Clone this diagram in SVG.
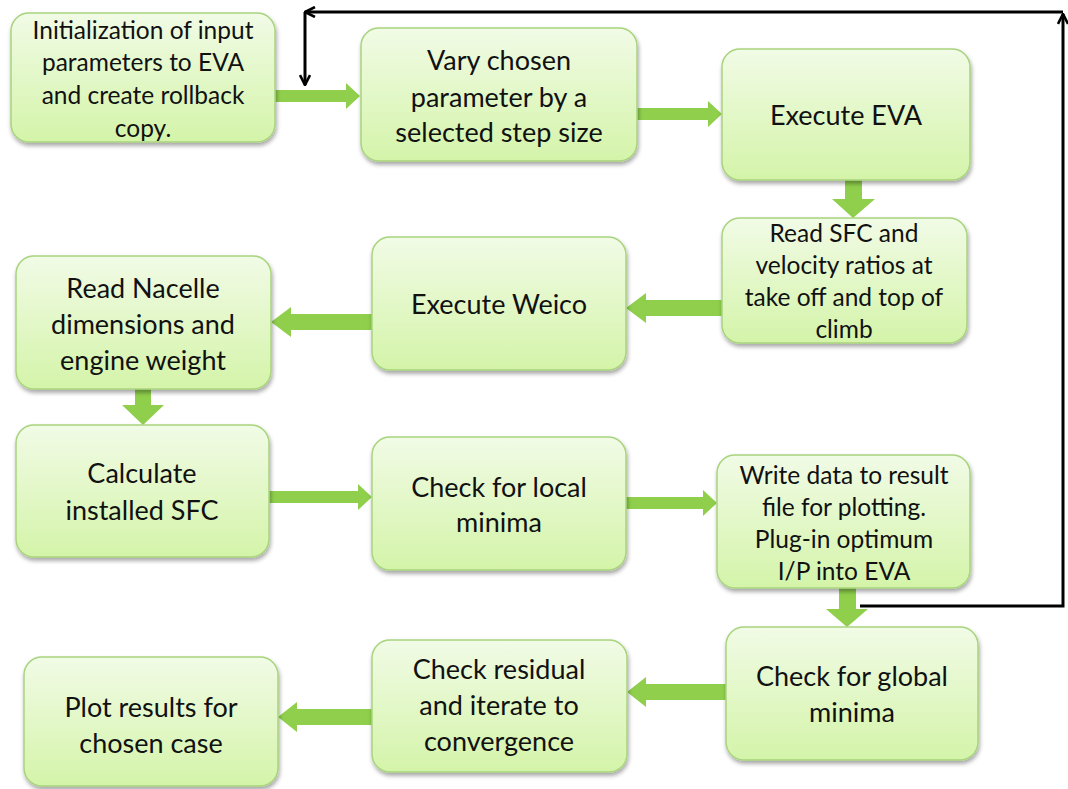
<svg xmlns="http://www.w3.org/2000/svg" width="1068" height="789" viewBox="0 0 1068 789">
<defs>
<linearGradient id="g" x1="0" y1="0" x2="0" y2="1">
<stop offset="0" stop-color="#f1fbe6"/>
<stop offset="1" stop-color="#d4f4a9"/>
</linearGradient>
<filter id="sh" x="-10%" y="-10%" width="130%" height="130%">
<feDropShadow dx="1" dy="3" stdDeviation="2" flood-color="#000" flood-opacity="0.35"/>
</filter>
<marker id="oa" viewBox="0 0 12 12" refX="11" refY="6" markerWidth="12" markerHeight="12" markerUnits="userSpaceOnUse" orient="auto">
<path d="M1,1 L11,6 L1,11" fill="none" stroke="#000" stroke-width="2.6" stroke-linejoin="miter"/>
</marker>
</defs>
<style>
.box{fill:url(#g);stroke:#a8d47e;stroke-width:1.5;filter:url(#sh)}
.t{font-family:Lato,"Liberation Sans",sans-serif;fill:#111;text-anchor:middle}
.s{font-size:24.5px}
.b{font-size:27px}
.ga{fill:#8fcf4c}
.fb{fill:none;stroke:#000;stroke-width:3}
</style>
<rect width="1068" height="789" fill="#fff"/>
<g id="connectors">
<polygon class="ga" points="275,90 346,90 346,83 360,96 346,109 346,102 275,102"/>
<polygon class="ga" points="637,108 708,108 708,101 722,114 708,127 708,120 637,120"/>
<polygon class="ga" points="845,180 862,180 862,199 875,199 853,218 832,199 845,199"/>
<polygon class="ga" points="722,300 646,300 646,293 626,308 646,323 646,316 722,316"/>
<polygon class="ga" points="372,314 291,314 291,307 271,322 291,337 291,330 372,330"/>
<polygon class="ga" points="135,389 151,389 151,405 164,405 143,425 122,405 135,405"/>
<polygon class="ga" points="269,491 358,491 358,484 372,497 358,510 358,503 269,503"/>
<polygon class="ga" points="626,497 703,497 703,490 717,503 703,516 703,509 626,509"/>
<polygon class="ga" points="839,588 856,588 856,609 868,609 847,627 826,609 839,609"/>
<polygon class="ga" points="726,684 646,684 646,677 627,692 646,707 646,700 726,700"/>
<polygon class="ga" points="372,709 297,709 297,702 278,717 297,732 297,725 372,725"/>
<path class="fb" d="M860,606 L1063,606 L1063,14" marker-end="url(#oa)"/>
<path class="fb" d="M1063,12 L305,12" marker-end="url(#oa)"/>
<path class="fb" d="M305,12 L305,85" marker-end="url(#oa)"/>
</g>
<g id="n1"><rect class="box" x="11" y="13" width="264" height="129" rx="18"/>
<text class="t s" x="143" y="39">Initialization of input</text><text class="t s" x="143" y="71">parameters to EVA</text><text class="t s" x="143" y="104">and create rollback</text><text class="t s" x="143" y="137">copy.</text></g>
<g id="n2"><rect class="box" x="361" y="28" width="276" height="133" rx="18"/>
<text class="t b" x="499" y="70">Vary chosen</text><text class="t b" x="499" y="107">parameter by a</text><text class="t b" x="499" y="142">selected step size</text></g>
<g id="n3"><rect class="box" x="722" y="49" width="248" height="131" rx="18"/>
<text class="t b" x="846" y="125">Execute EVA</text></g>
<g id="n4"><rect class="box" x="722" y="218" width="245" height="125" rx="18"/>
<text class="t s" x="844" y="242">Read SFC and</text><text class="t s" x="844" y="274">velocity ratios at</text><text class="t s" x="844" y="306">take off and top of</text><text class="t s" x="844" y="338">climb</text></g>
<g id="n5"><rect class="box" x="372" y="237" width="254" height="133" rx="18"/>
<text class="t b" x="499" y="314">Execute Weico</text></g>
<g id="n6"><rect class="box" x="16" y="256" width="255" height="133" rx="18"/>
<text class="t b" x="143" y="298">Read Nacelle</text><text class="t b" x="143" y="334">dimensions and</text><text class="t b" x="143" y="370">engine weight</text></g>
<g id="n7"><rect class="box" x="16" y="425" width="253" height="132" rx="18"/>
<text class="t b" x="142" y="483">Calculate</text><text class="t b" x="142" y="520">installed SFC</text></g>
<g id="n8"><rect class="box" x="372" y="437" width="254" height="133" rx="18"/>
<text class="t b" x="499" y="497">Check for local</text><text class="t b" x="499" y="532">minima</text></g>
<g id="n9"><rect class="box" x="717" y="455" width="253" height="133" rx="18"/>
<text class="t s" x="844" y="484">Write data to result</text><text class="t s" x="844" y="516">file for plotting.</text><text class="t s" x="844" y="548">Plug-in optimum</text><text class="t s" x="844" y="580">I/P into EVA</text></g>
<g id="n10"><rect class="box" x="726" y="627" width="252" height="133" rx="18"/>
<text class="t b" x="852" y="686">Check for global</text><text class="t b" x="852" y="722">minima</text></g>
<g id="n11"><rect class="box" x="372" y="640" width="255" height="132" rx="18"/>
<text class="t b" x="499" y="679">Check residual</text><text class="t b" x="499" y="715">and iterate to</text><text class="t b" x="499" y="751">convergence</text></g>
<g id="n12"><rect class="box" x="24" y="657" width="254" height="129" rx="18"/>
<text class="t b" x="151" y="717">Plot results for</text><text class="t b" x="151" y="753">chosen case</text></g>
</svg>
